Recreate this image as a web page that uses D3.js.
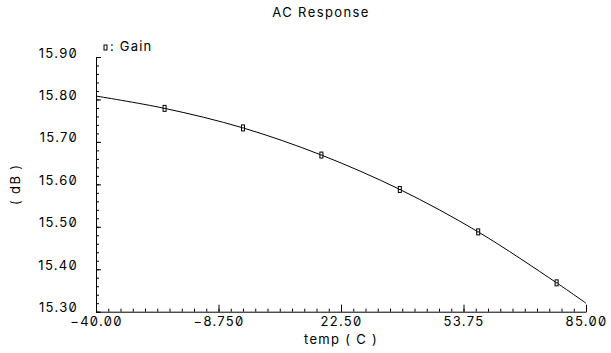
<!DOCTYPE html>
<html>
<head>
<meta charset="utf-8">
<script src="https://d3js.org/d3.v7.min.js"></script>
<style>
  html, body { margin: 0; padding: 0; background: #fff; }
  svg text { font-family: Inter, "Liberation Sans", sans-serif; font-feature-settings: "zero" 1; fill: #000; }
</style>
</head>
<body>
<svg id="chart" width="611" height="353"></svg>
<script>
// ---- data ----
const temps = [-40, -22.5, -2.5, 17.5, 37.5, 57.5, 77.5, 85];
const gain  = [15.808, 15.779, 15.733, 15.669, 15.588, 15.488, 15.368, 15.320];
const markerTemps = [-22.5, -2.5, 17.5, 37.5, 57.5, 77.5];
const xTicks = [-40, -8.75, 22.5, 53.75, 85];
const xTickLabels = ["\u221240.00", "\u22128.750", "22.50", "53.75", "85.00"];
const yTicks = [15.3, 15.4, 15.5, 15.6, 15.7, 15.8, 15.9];
const yTickLabels = ["15.30", "15.40", "15.50", "15.60", "15.70", "15.80", "15.90"];
const titleText = "AC Response";
const xLabel = "temp ( C )";
const yLabel = "( dB )";
const seriesName = "Gain";

// ---- layout ----
const W = 611, H = 353;
const m = { left: 96, right: 25, top: 57, bottom: 41.3 };
const svg = d3.select("#chart");

const x = d3.scaleLinear().domain([-40, 85]).range([m.left, W - m.right]);
const y = d3.scaleLinear().domain([15.3, 15.9]).range([H - m.bottom, m.top]);

const xMinor = d3.range(0, 41).map(i => -40 + i * 3.125);
const yMinor = d3.range(0, 31).map(i => 15.3 + i * 0.02);

// minor ticks
svg.append("g").attr("transform", `translate(0,${H - m.bottom})`)
  .call(d3.axisBottom(x).tickValues(xMinor).tickSize(-3).tickFormat(""))
  .call(g => g.select(".domain").remove());
svg.append("g").attr("transform", `translate(${m.left},0)`)
  .call(d3.axisLeft(y).tickValues(yMinor).tickSize(-3).tickFormat(""))
  .call(g => g.select(".domain").remove());

// major axes
const xAxis = svg.append("g").attr("transform", `translate(0,${H - m.bottom})`)
  .call(d3.axisBottom(x).tickValues(xTicks).tickSizeInner(-7).tickSizeOuter(0).tickPadding(5)
    .tickFormat((d, i) => xTickLabels[i]));
xAxis.selectAll("text").style("font-size", "13px").style("letter-spacing", "1.3px");

const yAxis = svg.append("g").attr("transform", `translate(${m.left},0)`)
  .call(d3.axisLeft(y).tickValues(yTicks).tickSizeInner(-5).tickSizeOuter(0).tickPadding(18)
    .tickFormat((d, i) => yTickLabels[i]));
yAxis.selectAll("text").attr("dy", "0").style("font-size", "13px").style("letter-spacing", "1.3px");

svg.selectAll(".domain, .tick line").attr("stroke", "#000").attr("stroke-width", 1);

// curve
const line = d3.line().x(d => x(d[0])).y(d => y(d[1])).curve(d3.curveCatmullRom.alpha(0.5));
const pts = temps.map((t, i) => [t, gain[i]]);
svg.append("path").datum(pts).attr("d", line)
  .attr("fill", "none").attr("stroke", "#000").attr("stroke-width", 1);

// markers
const gainAt = t => gain[temps.indexOf(t)];
svg.append("g").selectAll("rect").data(markerTemps).join("rect")
  .attr("x", d => x(d) - 1.5).attr("y", d => y(gainAt(d)) - 3)
  .attr("width", 3).attr("height", 6)
  .attr("fill", "#fff").attr("stroke", "#000").attr("stroke-width", 1);
svg.append("g").selectAll("line").data(markerTemps).join("line")
  .attr("x1", d => x(d) - 1.5).attr("x2", d => x(d) + 1.5)
  .attr("y1", d => y(gainAt(d))).attr("y2", d => y(gainAt(d)))
  .attr("stroke", "#000").attr("stroke-width", 1);

// legend
svg.append("rect").attr("x", 104).attr("y", 45).attr("width", 3).attr("height", 5)
  .attr("fill", "#fff").attr("stroke", "#000").attr("stroke-width", 1);
svg.append("text").attr("x", 110).attr("y", 51).style("font-size", "13px").style("letter-spacing", "1.2px")
  .text(": " + seriesName);

// title
svg.append("text").attr("x", (m.left + W - m.right) / 2 - 20).attr("y", 17)
  .attr("text-anchor", "middle").style("font-size", "13px").style("letter-spacing", "1.4px")
  .text(titleText);

// axis labels
svg.append("text").attr("x", (m.left + W - m.right) / 2).attr("y", 344)
  .attr("text-anchor", "middle").style("font-size", "13px").style("letter-spacing", "1.3px")
  .text(xLabel);
svg.append("text").attr("transform", `translate(20,${(m.top + H - m.bottom) / 2}) rotate(-90)`)
  .attr("text-anchor", "middle").style("font-size", "13px").style("letter-spacing", "1.3px")
  .text(yLabel);
</script>
</body>
</html>
